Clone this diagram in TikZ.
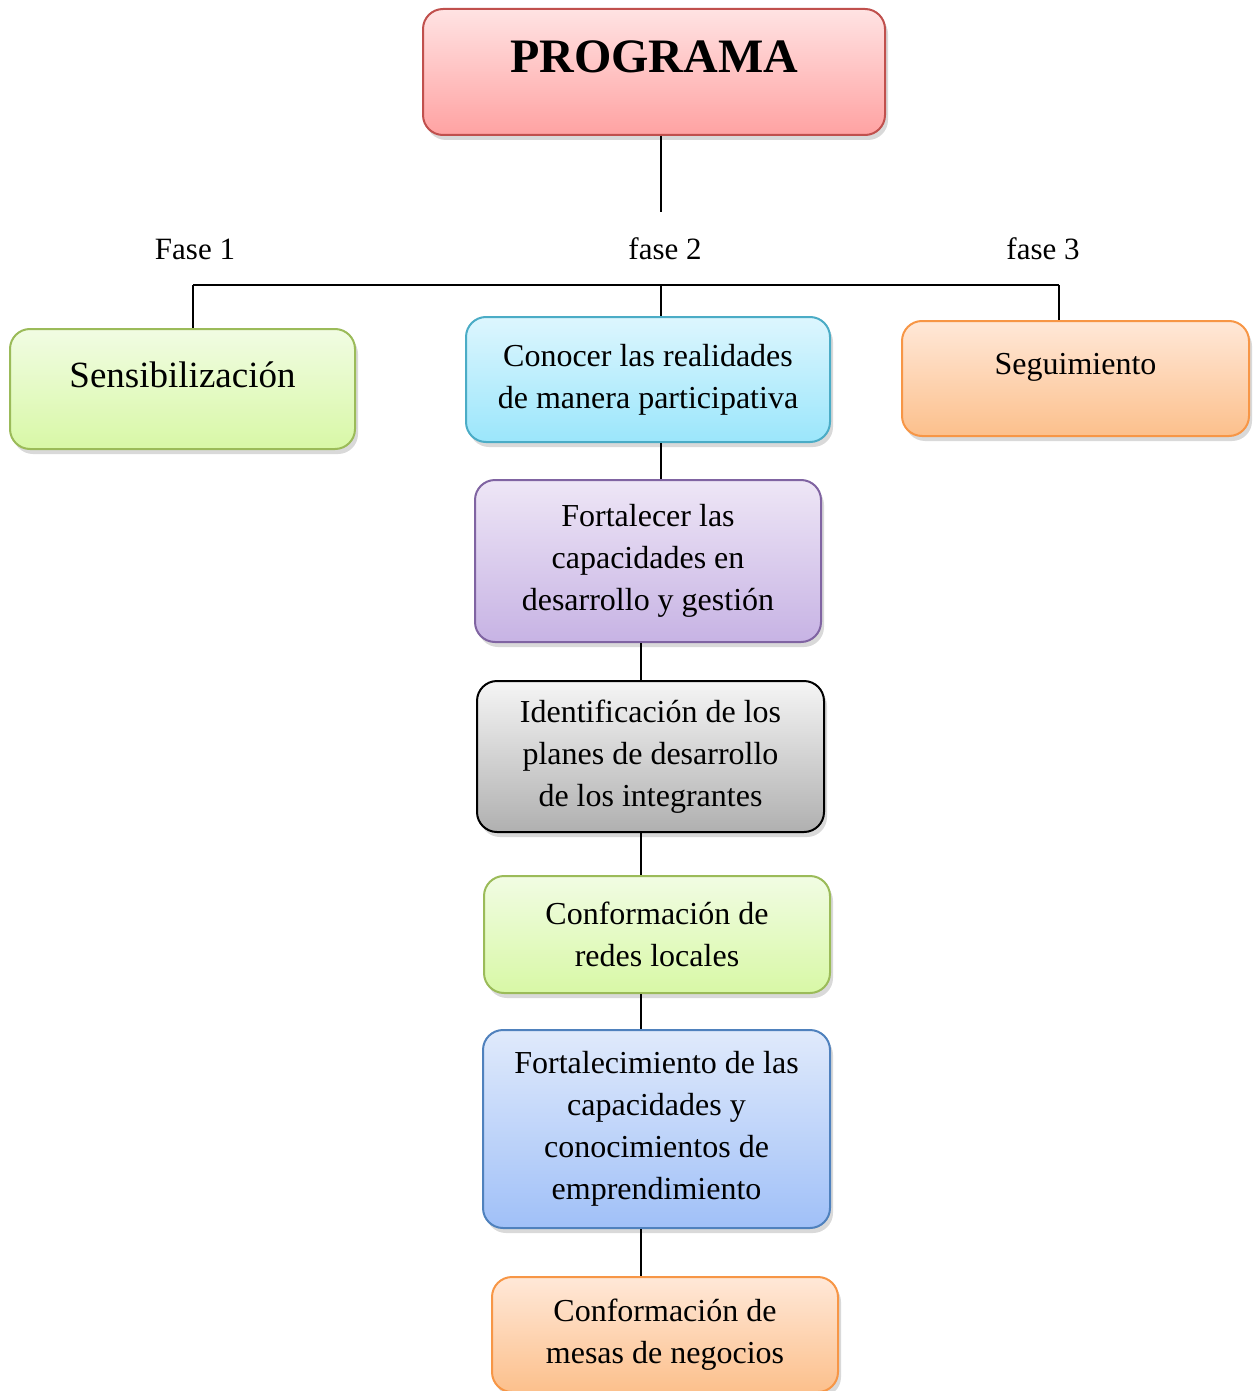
\documentclass[tikz,border=0pt]{standalone}
\usepackage{fontspec}
\setmainfont{Liberation Serif}
\usepackage{tikz}
\usetikzlibrary{shadows,positioning}
\definecolor{rojoB}{HTML}{C0504D}
\definecolor{verdeB}{HTML}{9BBB59}
\definecolor{cianB}{HTML}{4BACC6}
\definecolor{naranjaB}{HTML}{F79646}
\definecolor{moradoB}{HTML}{8064A2}
\definecolor{azulB}{HTML}{4F81BD}
\tikzset{
  basic/.style  = {rectangle, rounded corners=10pt, line width=1pt, align=center,
                   font=\fontsize{16}{21}\selectfont,
                   drop shadow={shadow xshift=1.5pt, shadow yshift=-2.5pt, opacity=0.3}},
  root/.style   = {basic, draw=rojoB, top color={rgb,255:red,255;green,227;blue,227},
                   bottom color={rgb,255:red,255;green,162;blue,162},
                   font=\fontsize{24}{28}\selectfont\bfseries},
  verde/.style  = {basic, draw=verdeB, top color={rgb,255:red,241;green,252;blue,227},
                   bottom color={rgb,255:red,216;green,248;blue,166}},
  cian/.style   = {basic, draw=cianB, top color={rgb,255:red,221;green,246;blue,254},
                   bottom color={rgb,255:red,155;green,230;blue,251}},
  naranja/.style = {basic, draw=naranjaB, top color={rgb,255:red,255;green,232;blue,216},
                   bottom color={rgb,255:red,252;green,192;blue,140}},
  morado/.style = {basic, draw=moradoB, top color={rgb,255:red,238;green,230;blue,246},
                   bottom color={rgb,255:red,199;green,179;blue,228}},
  gris/.style   = {basic, draw=black, top color={rgb,255:red,245;green,245;blue,245},
                   bottom color={rgb,255:red,176;green,176;blue,176}},
  azul/.style   = {basic, draw=azulB, top color={rgb,255:red,224;green,234;blue,251},
                   bottom color={rgb,255:red,160;green,192;blue,248}},
  fase/.style   = {font=\fontsize{15.5}{18}\selectfont},
  conector/.style = {draw, line width=1pt}
}

\begin{document}
\begin{tikzpicture}[x=0.5pt,y=-0.5pt]
\useasboundingbox (0,0) rectangle (1256,1391);

% top box, the three phases, then the chain of phase 2
\node[root, inner sep=0pt, minimum width=231pt, text height=32pt, text depth=31pt] (prog) at (654,72) {PROGRAMA};

\node[fase] (f1) at (195,249) {Fase 1};
\node[fase] (f2) at (665,249) {fase 2};
\node[fase] (f3) at (1043,249) {fase 3};

\node[verde, anchor=north, inner sep=0pt, minimum width=172.5pt, text height=29pt, text depth=31pt,
      font=\fontsize{18.5}{22}\selectfont] (sens) at (182.5,328) {Sensibilización};
\node[cian, minimum width=182pt, minimum height=62.5pt] (conoc) at (648,379.5)
      {Conocer las realidades\\de manera participativa};
\node[naranja, anchor=north, inner sep=0pt, minimum width=173.5pt, text height=26.5pt, text depth=31pt] (segui) at (1075.5,320) {Seguimiento};

\node[morado, minimum width=173pt, minimum height=81pt] (fort) at (648,561)
      {Fortalecer las\\capacidades en\\desarrollo y gestión};
\node[gris, minimum width=173.5pt, minimum height=75.5pt] (ident) at (650.5,756.5)
      {Identificación de los\\planes de desarrollo\\de los integrantes};
\node[verde, minimum width=173pt, minimum height=58.5pt] (redes) at (657,934.5)
      {Conformación de\\redes locales};
\node[azul, minimum width=173.5pt, minimum height=99pt] (empr) at (656.5,1129)
      {Fortalecimiento de las\\capacidades y\\conocimientos de\\emprendimiento};
\node[naranja, minimum width=173pt, minimum height=57.5pt] (mesas) at (665,1334.5)
      {Conformación de\\mesas de negocios};

\coordinate (top) at (661,212);
\coordinate (b1) at (193,285);
\coordinate (b2) at (661,285);
\coordinate (b3) at (1059,285);
\coordinate (eje) at (641,0);

\draw[conector] (prog.south -| top) -- (top);
\draw[conector] (b1) -- (b3);
\draw[conector] (b1) -- (b1 |- sens.north);
\draw[conector] (b2) -- (b2 |- conoc.north);
\draw[conector] (b3) -- (b3 |- segui.north);
\draw[conector] (conoc.south -| top) -- (fort.north -| top);

\foreach \a/\b in {fort/ident, ident/redes, redes/empr, empr/mesas}
  \draw[conector] (\a.south -| eje) -- (\b.north -| eje);

\end{tikzpicture}
\end{document}
